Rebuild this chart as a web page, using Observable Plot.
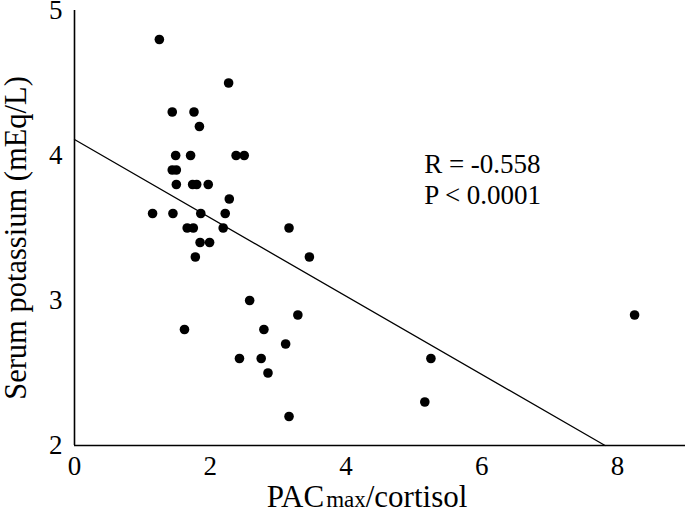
<!DOCTYPE html>
<html>
<head>
<meta charset="utf-8">
<script src="https://cdn.jsdelivr.net/npm/d3@7"></script>
<script src="https://cdn.jsdelivr.net/npm/@observablehq/plot@0.6"></script>
<style>
  html, body { margin: 0; padding: 0; background: #fff; }
  #chart svg { display: block; }
  #chart svg text { font-family: 'Liberation Serif', 'Times New Roman', serif; }
</style>
</head>
<body>
<div id="chart"></div>
<script>
// PACmax/cortisol ratio (x) and serum potassium in mEq/L (y)
const pacRatio = [
  1.25, 2.27, 1.44, 1.76, 1.84,
  1.49, 1.71, 2.38, 2.50,
  1.44, 1.50,
  1.50, 1.74, 1.80, 1.97,
  2.28,
  1.15, 1.45, 1.86, 2.22,
  1.66, 1.75, 2.19, 3.16,
  1.85, 1.99,
  1.78, 3.46,
  2.58,
  3.29, 8.25,
  1.62, 2.79,
  3.11,
  2.43, 2.75, 5.25,
  2.85,
  5.16,
  3.16
];
const potassium = [
  4.8, 4.5, 4.3, 4.3, 4.2,
  4.0, 4.0, 4.0, 4.0,
  3.9, 3.9,
  3.8, 3.8, 3.8, 3.8,
  3.7,
  3.6, 3.6, 3.6, 3.6,
  3.5, 3.5, 3.5, 3.5,
  3.4, 3.4,
  3.3, 3.3,
  3.0,
  2.9, 2.9,
  2.8, 2.8,
  2.7,
  2.6, 2.6, 2.6,
  2.5,
  2.3,
  2.2
];

// Regression line shown in the figure
const regIntercept = 4.11;
const regSlope = -0.27;

const xTicks = [0, 2, 4, 6, 8];
const yTicks = [2, 3, 4, 5];
const xDomain = [0, 9];
const yDomain = [2, 5];

const statLines = ["R = -0.558", "P < 0.0001"];
const statPos = [{x: 5.15, y: 3.94}, {x: 5.15, y: 3.728}];

const xTitleMain = "PAC";
const xTitleSub = "max";
const xTitleRest = "/cortisol";
const yTitle = "Serum potassium (mEq/L)";

// build tables
const points = pacRatio.map((x, i) => ({x, y: potassium[i]}));
const xEnd = (yDomain[0] - regIntercept) / regSlope;
const regLine = [0, xEnd].map(x => ({x, y: regIntercept + regSlope * x}));
const stats = statLines.map((t, i) => ({text: t, ...statPos[i]}));

const FONT = "'Liberation Serif', 'Times New Roman', serif";

const chart = Plot.plot({
  width: 685,
  height: 514,
  marginLeft: 74,
  marginRight: 0,
  marginTop: 10,
  marginBottom: 69,
  style: {fontFamily: FONT, fontSize: "27px", color: "black", background: "white", overflow: "visible"},
  x: {domain: xDomain},
  y: {domain: yDomain},
  marks: [
    Plot.axisX({ticks: xTicks, tickFormat: d => String(d), tickSize: 0, tickPadding: 10, label: null, fontSize: 27, fill: "black"}),
    Plot.axisY({ticks: yTicks, tickFormat: d => String(d), tickSize: 0, tickPadding: 12, label: null, fontSize: 27, fill: "black"}),
    Plot.line(regLine, {x: "x", y: "y", stroke: "black", strokeWidth: 1.3}),
    Plot.dot(points, {x: "x", y: "y", r: 4.8, fill: "black", stroke: null}),
    Plot.ruleX([xDomain[0]], {stroke: "black", strokeWidth: 1.6}),
    Plot.ruleY([yDomain[0]], {stroke: "black", strokeWidth: 1.6}),
    Plot.text(stats, {x: "x", y: "y", text: "text", textAnchor: "start", fontSize: 27, fill: "black"})
  ]
});

const svg = d3.select(chart);
// y axis title
svg.append("text")
  .attr("transform", "translate(26,238) rotate(-90)")
  .attr("text-anchor", "middle")
  .attr("font-size", 30.5)
  .attr("fill", "black")
  .text(yTitle);
// x axis title with smaller "max"
const xt = svg.append("text")
  .attr("x", 367)
  .attr("y", 507)
  .attr("text-anchor", "middle")
  .attr("font-size", 31)
  .attr("fill", "black");
xt.append("tspan").text(xTitleMain);
xt.append("tspan").attr("font-size", 23).attr("dx", 2).text(xTitleSub);
xt.append("tspan").text(xTitleRest);

svg.selectAll("text").attr("font-family", FONT);

document.getElementById("chart").appendChild(chart);
</script>
</body>
</html>
